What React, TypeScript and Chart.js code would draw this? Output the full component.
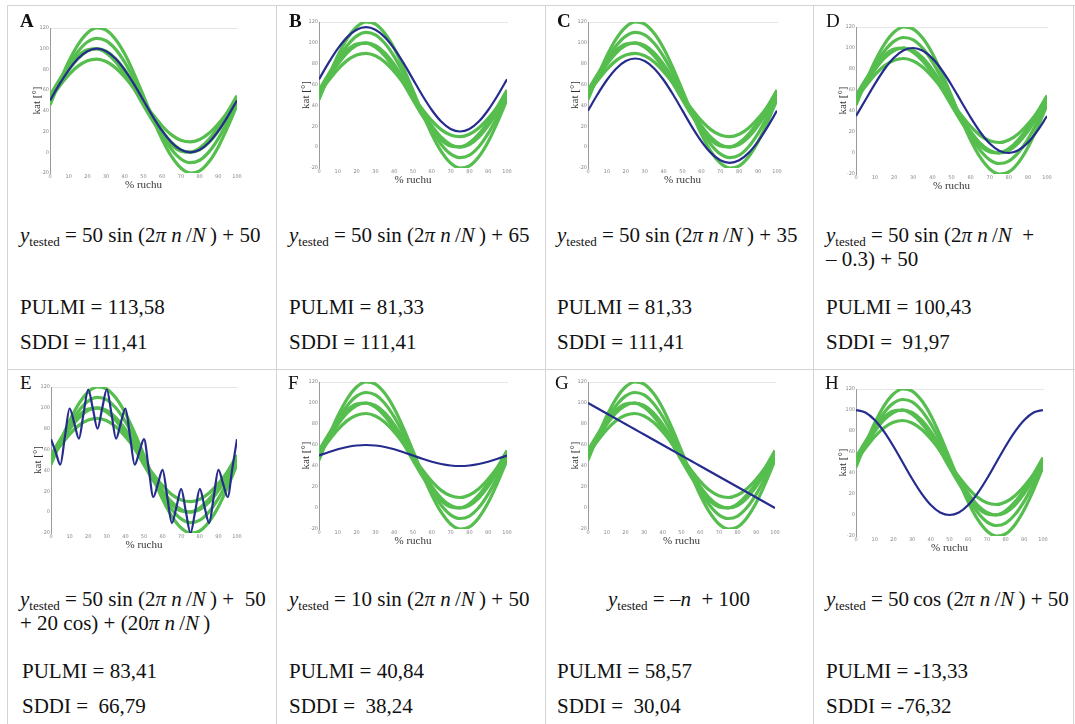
import React, { useEffect, useRef } from 'react';
import { Chart, registerables } from 'chart.js';
Chart.register(...registerables);

// ---------- data ----------
const xSteps = [0, 5, 10, 15, 20, 25, 30, 35, 40, 45, 50, 55, 60, 65, 70, 75, 80, 85, 90, 95, 100];
const xFine = [0, 2.5, 5, 7.5, 10, 12.5, 15, 17.5, 20, 22.5, 25, 27.5, 30, 32.5, 35, 37.5, 40, 42.5, 45, 47.5, 50,
  52.5, 55, 57.5, 60, 62.5, 65, 67.5, 70, 72.5, 75, 77.5, 80, 82.5, 85, 87.5, 90, 92.5, 95, 97.5, 100];
const xTickValues = [0, 10, 20, 30, 40, 50, 60, 70, 80, 90, 100];
const yTickValues = [-20, 0, 20, 40, 60, 80, 100, 120];

// reference (green) curves, identical in every panel
const green1 = [45.6, 67.4, 87.6, 104.0, 115.2, 120.0, 118.0, 109.2, 94.8, 75.8, 54.4, 32.6, 12.4, -4.0, -15.2, -20.0, -18.0, -9.2, 5.2, 24.2, 45.6];
const green2 = [48.1, 66.7, 83.8, 97.4, 106.5, 110.0, 107.7, 99.6, 86.8, 70.3, 51.9, 33.3, 16.2, 2.6, -6.5, -10.0, -7.7, 0.4, 13.2, 29.7, 48.1];
const green3 = [50, 65.5, 79.4, 90.5, 97.6, 100, 97.6, 90.5, 79.4, 65.5, 50, 34.5, 20.6, 9.5, 2.4, 0, 2.4, 9.5, 20.6, 34.5, 50];
const green4 = [54.7, 69.9, 83.1, 93.1, 98.9, 99.8, 95.9, 87.5, 75.5, 60.9, 45.3, 30.1, 16.9, 6.9, 1.1, 0.2, 4.1, 12.5, 24.5, 39.1, 54.7];
const green5 = [51.3, 63.6, 74.6, 83.2, 88.4, 90.0, 87.6, 81.6, 72.4, 61.2, 48.7, 36.4, 25.4, 16.8, 11.6, 10.0, 12.4, 18.4, 27.6, 38.8, 51.3];

// tested (blue) curves
const blueA = [50, 65.5, 79.4, 90.5, 97.6, 100, 97.6, 90.5, 79.4, 65.5, 50, 34.5, 20.6, 9.5, 2.4, 0, 2.4, 9.5, 20.6, 34.5, 50];
const blueB = [65, 80.5, 94.4, 105.5, 112.6, 115, 112.6, 105.5, 94.4, 80.5, 65, 49.5, 35.6, 24.5, 17.4, 15, 17.4, 24.5, 35.6, 49.5, 65];
const blueC = [35, 50.5, 64.4, 75.5, 82.6, 85, 82.6, 75.5, 64.4, 50.5, 35, 19.5, 5.6, -5.5, -12.6, -15, -12.6, -5.5, 5.6, 19.5, 35];
const blueD = [35.2, 50.7, 66.1, 80.0, 90.9, 97.8, 100.0, 97.3, 90.1, 78.8, 64.8, 49.3, 33.9, 20.0, 9.1, 2.2, 0.0, 2.7, 9.9, 21.2, 35.2];
const blueE = [70, 57.8, 45.5, 72.7, 99.4, 85.4, 70.5, 94.6, 117.6, 99.4, 80, 99.4, 117.6, 94.6, 70.5, 85.4, 99.4, 72.7, 45.5, 57.8, 70,
  42.2, 14.5, 27.3, 40.6, 14.6, -10.5, 5.4, 22.4, 0.6, -20, 0.6, 22.4, 5.4, -10.5, 14.6, 40.6, 27.3, 14.5, 42.2, 70];
const blueF = [50, 53.1, 55.9, 58.1, 59.5, 60, 59.5, 58.1, 55.9, 53.1, 50, 46.9, 44.1, 41.9, 40.5, 40, 40.5, 41.9, 44.1, 46.9, 50];
const blueG = [100, 95, 90, 85, 80, 75, 70, 65, 60, 55, 50, 45, 40, 35, 30, 25, 20, 15, 10, 5, 0];
const blueH = [100, 97.6, 90.5, 79.4, 65.5, 50, 34.5, 20.6, 9.5, 2.4, 0, 2.4, 9.5, 20.6, 34.5, 50, 65.5, 79.4, 90.5, 97.6, 100];

const pulmi = ['113,58', '81,33', '81,33', '100,43', '83,41', '40,84', '58,57', '-13,33'];
const sddi = ['111,41', '111,41', '111,41', ' 91,97', ' 66,79', ' 38,24', ' 30,04', '-76,32'];
const letters = ['A', 'B', 'C', 'D', 'E', 'F', 'G', 'H'];

// ---------- styles ----------
const GREEN = 'rgb(86,190,78)';
const BLUE = 'rgb(38,44,142)';
const SERIF = "'Liberation Serif', Tinos, 'Times New Roman', Times, 'DejaVu Serif', serif";
const LINE = '#d3d3d3';

const greens = [green1, green2, green3, green4, green5];

type PanelCfg = {
  blue: number[]; blueX: number[]; L: number; R: number; T: number; B: number;
};

const Y_W = 19, X_H = 19, PAD_T = 4, PAD_R = 8;

function PanelChart({ blue, blueX, L, R, T, B }: PanelCfg) {
  const ref = useRef<HTMLCanvasElement>(null);
  useEffect(() => {
    if (!ref.current) return;
    const tickFont = { size: 5, family: 'DejaVu Sans' };
    const chart = new Chart(ref.current, {
      type: 'line',
      data: {
        datasets: [
          {
            data: blueX.map((x, i) => ({ x, y: blue[i] })),
            borderColor: BLUE, borderWidth: 2.2, pointRadius: 0,
            cubicInterpolationMode: 'monotone', fill: false,
          },
          ...greens.map((g) => ({
            data: xSteps.map((x, i) => ({ x, y: g[i] })),
            borderColor: GREEN, borderWidth: 3.2, pointRadius: 0,
            cubicInterpolationMode: 'monotone' as const, fill: false,
          })),
        ],
      },
      options: {
        animation: false,
        responsive: false,
        maintainAspectRatio: false,
        layout: { padding: { top: PAD_T, right: PAD_R, left: 0, bottom: 0 } },
        plugins: { legend: { display: false }, tooltip: { enabled: false } },
        scales: {
          x: {
            type: 'linear', min: 0, max: 100,
            afterBuildTicks: (s: any) => { s.ticks = xTickValues.map((v) => ({ value: v })); },
            ticks: { font: tickFont, color: '#888', padding: 1, maxRotation: 0, autoSkip: false },
            grid: { display: false, drawTicks: false },
            border: { display: false },
            title: { display: true, text: '% ruchu', font: { family: SERIF, size: 11 }, color: '#333', padding: 0 },
            afterFit: (s: any) => { s.height = X_H; },
          },
          x2: {
            type: 'linear', position: 'top', min: 0, max: 100,
            grid: { display: false, drawTicks: false },
            ticks: { display: false },
            border: { display: true, color: '#e6e6e6' },
            afterFit: (s: any) => { s.height = 0; },
          },
          y: {
            min: -20, max: 120,
            afterBuildTicks: (s: any) => { s.ticks = yTickValues.map((v) => ({ value: v })); },
            ticks: { font: tickFont, color: '#888', padding: 1 },
            grid: { display: false, drawTicks: false },
            border: { display: true, color: '#9a9a9a', width: 1 },
            title: { display: true, text: 'kat [°]', font: { family: SERIF, size: 11 }, color: '#333', padding: 0 },
            afterFit: (s: any) => { s.width = Y_W; },
          },
        },
      } as any,
    });
    return () => chart.destroy();
  }, []);
  const w = R - L + Y_W + PAD_R;
  const h = B - T + PAD_T + X_H;
  return (
    <canvas
      ref={ref}
      width={w}
      height={h}
      style={{ position: 'absolute', left: L - Y_W, top: T - PAD_T, width: w, height: h }}
    />
  );
}

const panels: PanelCfg[] = [
  { blue: blueA, blueX: xSteps, L: 50, R: 237, T: 28, B: 173 },
  { blue: blueB, blueX: xSteps, L: 319, R: 507, T: 22, B: 168 },
  { blue: blueC, blueX: xSteps, L: 588, R: 777, T: 22, B: 168 },
  { blue: blueD, blueX: xSteps, L: 856, R: 1047, T: 27, B: 174 },
  { blue: blueE, blueX: xFine, L: 51, R: 237, T: 387, B: 533 },
  { blue: blueF, blueX: xSteps, L: 319, R: 507, T: 382, B: 529 },
  { blue: blueG, blueX: xSteps, L: 588, R: 775, T: 382, B: 529 },
  { blue: blueH, blueX: xSteps, L: 856, R: 1043, T: 389, B: 536 },
];

const colX = [20, 289, 557, 826];
const letterX = [20, 289, 557, 826, 20, 288, 555, 825];

const Y = () => (
  <>
    <i>y</i>
    <sub style={{ fontSize: 13, verticalAlign: -4, lineHeight: 0 }}>tested</sub>
  </>
);
const Frac = () => (
  <>
    (2<i>π n</i>&thinsp;/<i>N</i>&thinsp;)
  </>
);

function formula(i: number) {
  switch (i) {
    case 0: return [<><Y /> = 50 sin <Frac /> + 50</>];
    case 1: return [<><Y /> = 50 sin <Frac /> + 65</>];
    case 2: return [<><Y /> = 50 sin <Frac /> + 35</>];
    case 3: return [<><Y /> = 50 sin (2<i>π n</i>&thinsp;/<i>N</i>&nbsp; +</>, <>– 0.3) + 50</>];
    case 4: return [<><Y /> = 50 sin <Frac /> + &nbsp;50</>, <>+ 20 cos) + (20<i>π n</i>&thinsp;/<i>N</i>&thinsp;)</>];
    case 5: return [<><Y /> = 10 sin <Frac /> + 50</>];
    case 6: return [<><Y /> = –<i>n</i> &nbsp;+ 100</>];
    default: return [<><Y /> = 50&thinsp;cos <Frac /> + 50</>];
  }
}

const textStyle: React.CSSProperties = {
  position: 'absolute', fontFamily: SERIF, fontSize: 21, lineHeight: '21px',
  color: '#111', whiteSpace: 'pre',
};

export default function App() {
  const rowTop = [0, 364];
  return (
    <div style={{ position: 'absolute', left: 0, top: 0, width: 1075, height: 724, background: '#fff', overflow: 'hidden' }}>
      {/* table lines */}
      <div style={{ position: 'absolute', left: 7, top: 5, width: 1068, height: 1, background: LINE }} />
      <div style={{ position: 'absolute', left: 7, top: 369, width: 1068, height: 1, background: LINE }} />
      {[7, 276, 545, 813, 1073].map((x) => (
        <div key={x} style={{ position: 'absolute', left: x, top: 5, width: 1, height: 719, background: LINE }} />
      ))}
      {panels.map((p, i) => <PanelChart key={i} {...p} />)}
      {letters.map((l, i) => (
        <div key={l} style={{
          ...textStyle, fontSize: 19, left: letterX[i], top: i < 4 ? 10 : 372,
          fontWeight: i < 3 ? 'bold' : 'normal',
        }}>{l}</div>
      ))}
      {letters.map((l, i) => {
        const row = i < 4 ? 0 : 1;
        const col = i % 4;
        const lines = formula(i);
        const base = rowTop[row];
        const left = colX[col];
        return (
          <React.Fragment key={'t' + l}>
            {lines.map((ln, k) => (
              <div key={k} style={{
                ...textStyle,
                left: i === 6 ? 545 : left,
                width: i === 6 ? 268 : undefined,
                textAlign: i === 6 ? 'center' : 'left',
                top: base + 225 + k * 24,
              }}>{ln}</div>
            ))}
            <div style={{ ...textStyle, left: left + (i === 4 ? 2 : 0), top: base + 297 }}>PULMI = {pulmi[i]}</div>
            <div style={{ ...textStyle, left: left + (i === 4 ? 2 : 0), top: base + 332 }}>SDDI = {sddi[i]}</div>
          </React.Fragment>
        );
      })}
    </div>
  );
}
